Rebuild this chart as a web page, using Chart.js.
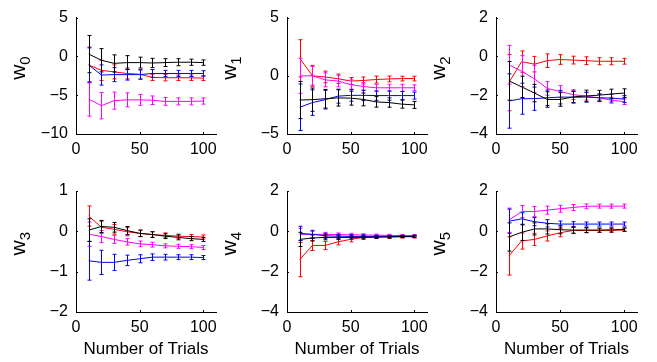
<!DOCTYPE html>
<html>
<head>
<meta charset="utf-8">
<script src="https://cdn.jsdelivr.net/npm/chart.js@4.4.0/dist/chart.umd.min.js"></script>
<style>
  body { margin: 0; background: #fff; }
  #wrap { position: relative; width: 657px; height: 362px; overflow: hidden; }
  #wrap canvas { position: absolute; }
</style>
</head>
<body>
<div id="wrap"></div>
<script>
//-----------------------------------
// Data
//-----------------------------------
var trials = [10, 20, 30, 40, 50, 60, 70, 80, 90, 100];
var xTicks = [0, 50, 100];

// rows in every panel: red, magenta, blue, black
var seriesColors = ['#ff0000', '#ff00ff', '#0000ff', '#000000'];

var w0Mean = [
  [-1.1, -1.8, -2.0, -2.2, -2.3, -2.7, -2.75, -2.75, -2.75, -2.8],
  [-5.5, -6.35, -5.7, -5.6, -5.6, -5.65, -5.8, -5.8, -5.8, -5.75],
  [-1.1, -2.4, -2.35, -2.35, -2.35, -2.2, -2.2, -2.2, -2.2, -2.2],
  [0.3, -0.5, -0.9, -0.8, -0.8, -0.85, -0.8, -0.75, -0.75, -0.8]
];
var w0Err = [
  [2.3, 1.3, 0.9, 0.7, 0.6, 0.4, 0.4, 0.35, 0.35, 0.3],
  [2.2, 1.7, 1.1, 0.9, 0.7, 0.55, 0.5, 0.45, 0.45, 0.4],
  [2.2, 1.3, 0.9, 0.7, 0.6, 0.5, 0.4, 0.4, 0.4, 0.35],
  [2.4, 1.5, 1.1, 0.9, 0.7, 0.6, 0.5, 0.45, 0.4, 0.35]
];

var w1Mean = [
  [1.5, 0.0, -0.1, -0.25, -0.45, -0.4, -0.32, -0.27, -0.24, -0.24],
  [0.0, 0.0, -0.35, -0.45, -0.75, -0.92, -1.03, -1.03, -1.03, -1.03],
  [-2.7, -2.3, -2.05, -1.75, -1.68, -1.68, -1.7, -1.7, -1.7, -1.7],
  [-2.08, -2.05, -1.97, -1.9, -1.92, -2.03, -2.24, -2.3, -2.43, -2.5]
];
var w1Err = [
  [1.6, 0.9, 0.5, 0.4, 0.3, 0.3, 0.3, 0.25, 0.2, 0.2],
  [1.5, 0.8, 0.6, 0.5, 0.4, 0.35, 0.3, 0.3, 0.3, 0.25],
  [2.0, 1.1, 0.8, 0.6, 0.5, 0.45, 0.4, 0.4, 0.35, 0.3],
  [1.6, 1.0, 0.8, 0.7, 0.6, 0.55, 0.45, 0.4, 0.35, 0.3]
];

var w2Mean = [
  [-1.35, -0.27, -0.4, -0.22, -0.16, -0.19, -0.22, -0.25, -0.25, -0.25],
  [-0.43, -0.76, -1.16, -1.65, -1.81, -1.97, -2.05, -2.13, -2.26, -2.33],
  [-2.3, -2.18, -2.18, -2.13, -2.1, -2.1, -2.1, -2.13, -2.15, -2.2],
  [-1.26, -1.57, -1.89, -2.22, -2.22, -2.09, -2.04, -2.0, -1.94, -1.89]
];
var w2Err = [
  [1.45, 0.55, 0.4, 0.35, 0.25, 0.2, 0.2, 0.18, 0.18, 0.15],
  [1.0, 0.8, 0.7, 0.35, 0.3, 0.25, 0.2, 0.18, 0.15, 0.15],
  [1.4, 0.8, 0.6, 0.4, 0.35, 0.3, 0.25, 0.2, 0.2, 0.18],
  [1.0, 0.55, 0.45, 0.4, 0.35, 0.3, 0.3, 0.25, 0.25, 0.22]
];

var w3Mean = [
  [0.38, 0.1, 0.05, -0.01, -0.05, -0.08, -0.1, -0.12, -0.13, -0.14],
  [-0.07, -0.13, -0.2, -0.26, -0.31, -0.33, -0.36, -0.37, -0.38, -0.4],
  [-0.73, -0.77, -0.77, -0.72, -0.68, -0.64, -0.64, -0.64, -0.64, -0.65],
  [0.03, 0.12, 0.1, 0.02, -0.05, -0.08, -0.12, -0.15, -0.18, -0.2]
];
var w3Err = [
  [0.25, 0.15, 0.12, 0.1, 0.08, 0.07, 0.06, 0.05, 0.05, 0.05],
  [0.3, 0.15, 0.1, 0.08, 0.07, 0.06, 0.05, 0.05, 0.05, 0.05],
  [0.48, 0.3, 0.2, 0.13, 0.1, 0.08, 0.07, 0.06, 0.06, 0.05],
  [0.28, 0.15, 0.12, 0.1, 0.08, 0.07, 0.06, 0.06, 0.05, 0.05]
];

var w4Mean = [
  [-1.4, -0.7, -0.7, -0.52, -0.4, -0.3, -0.27, -0.27, -0.27, -0.27],
  [-0.15, -0.15, -0.15, -0.16, -0.17, -0.18, -0.19, -0.2, -0.21, -0.22],
  [-0.1, -0.15, -0.22, -0.24, -0.25, -0.25, -0.25, -0.25, -0.25, -0.25],
  [-0.4, -0.33, -0.3, -0.3, -0.3, -0.3, -0.29, -0.28, -0.26, -0.24]
];
var w4Err = [
  [0.85, 0.25, 0.2, 0.15, 0.12, 0.1, 0.08, 0.07, 0.06, 0.06],
  [0.3, 0.15, 0.1, 0.08, 0.07, 0.06, 0.05, 0.05, 0.05, 0.05],
  [0.35, 0.2, 0.12, 0.1, 0.08, 0.07, 0.06, 0.05, 0.05, 0.05],
  [0.35, 0.15, 0.12, 0.1, 0.08, 0.07, 0.06, 0.06, 0.05, 0.05]
];

var w5Mean = [
  [-1.22, -0.48, -0.4, -0.23, -0.07, 0.04, 0.05, 0.05, 0.05, 0.07],
  [0.55, 0.98, 0.98, 1.05, 1.12, 1.18, 1.24, 1.25, 1.25, 1.25],
  [0.5, 0.62, 0.48, 0.4, 0.36, 0.36, 0.36, 0.36, 0.36, 0.36],
  [-0.28, -0.05, 0.12, 0.12, 0.08, 0.06, 0.06, 0.06, 0.07, 0.09]
];
var w5Err = [
  [0.95, 0.4, 0.3, 0.25, 0.2, 0.15, 0.12, 0.1, 0.1, 0.08],
  [0.6, 0.3, 0.25, 0.2, 0.17, 0.15, 0.12, 0.1, 0.1, 0.1],
  [0.6, 0.3, 0.2, 0.18, 0.15, 0.12, 0.1, 0.1, 0.1, 0.1],
  [0.7, 0.4, 0.3, 0.25, 0.2, 0.15, 0.12, 0.1, 0.1, 0.08]
];

var panelSubs = ['0', '1', '2', '3', '4', '5'];
var yTicks = [[-10, -5, 0, 5], [-5, 0, 5], [-4, -2, 0, 2], [-2, -1, 0, 1], [-4, -2, 0, 2], [-4, -2, 0, 2]];
var xTitle = 'Number of Trials';

var panelMeans = [w0Mean, w1Mean, w2Mean, w3Mean, w4Mean, w5Mean];
var panelErrs = [w0Err, w1Err, w2Err, w3Err, w4Err, w5Err];

//-----------------------------------
// Layout (page pixels of each plot box)
//-----------------------------------
var FONT = '"Liberation Sans", Arial, Helvetica, sans-serif';
var plotLeft = [76, 287, 496];
var plotRight = [216, 427, 637];
var plotTop = [12, 191];
var plotBottom = [134, 312];
var rowY0 = [0, 172];
var rowH = [172, 190];

//-----------------------------------
// error bars, drawn right after each line
//-----------------------------------
var errorBarPlugin = {
  id: 'errorBars',
  afterDatasetDraw: function (chart, args) {
    var ds = chart.data.datasets[args.index];
    var yScale = chart.scales.y;
    var ctx = chart.ctx;
    ctx.save();
    ctx.strokeStyle = ds.borderColor;
    ctx.lineWidth = 1;
    args.meta.data.forEach(function (pt, i) {
      var m = ds.data[i].y;
      var e = ds.err[i];
      var top = yScale.getPixelForValue(m + e);
      var bot = yScale.getPixelForValue(m - e);
      var x = Math.round(pt.x) + 0.5;
      ctx.beginPath();
      ctx.moveTo(x, top); ctx.lineTo(x, bot);
      ctx.moveTo(x - 2, top); ctx.lineTo(x + 2, top);
      ctx.moveTo(x - 2, bot); ctx.lineTo(x + 2, bot);
      ctx.stroke();
    });
    ctx.restore();
  }
};

// y label w with subscript, and small inward ticks
var axisExtrasPlugin = {
  id: 'axisExtras',
  afterDraw: function (chart) {
    var ctx = chart.ctx;
    var a = chart.chartArea;
    var sub = chart.options.plugins.axisExtras.sub;
    ctx.save();
    ctx.strokeStyle = '#000';
    ctx.lineWidth = 1;
    ctx.beginPath();
    chart.scales.x.ticks.forEach(function (t) {
      var x = Math.round(chart.scales.x.getPixelForValue(t.value)) + 0.5;
      ctx.moveTo(x, a.bottom); ctx.lineTo(x, a.bottom - 2);
    });
    chart.scales.y.ticks.forEach(function (t) {
      var y = Math.round(chart.scales.y.getPixelForValue(t.value)) + 0.5;
      ctx.moveTo(a.left, y); ctx.lineTo(a.left + 2, y);
    });
    ctx.stroke();

    ctx.fillStyle = '#000';
    ctx.translate(a.left - 51, (a.top + a.bottom) / 2 + 4);
    ctx.rotate(-Math.PI / 2);
    ctx.textAlign = 'left';
    ctx.textBaseline = 'alphabetic';
    ctx.font = '21px ' + FONT;
    ctx.fillText('w', 0, 0);
    var ww = ctx.measureText('w').width;
    ctx.font = '15px ' + FONT;
    ctx.fillText(sub, ww, 5);
    ctx.restore();
  }
};

function minusLabel(v) {
  return v < 0 ? '\u2212' + Math.abs(v) : '' + v;
}

//-----------------------------------
// build the six panels
//-----------------------------------
function drawPanel(p) {
  var col = p % 3;
  var row = Math.floor(p / 3);
  var x0 = plotLeft[col] - 76;
  var w = plotRight[col] - x0 + 22;
  var y0 = rowY0[row];
  var h = rowH[row];

  var canvas = document.createElement('canvas');
  canvas.width = w;
  canvas.height = h;
  canvas.style.left = x0 + 'px';
  canvas.style.top = y0 + 'px';
  canvas.style.width = w + 'px';
  canvas.style.height = h + 'px';
  document.getElementById('wrap').appendChild(canvas);

  var datasets = [];
  for (var s = 0; s < seriesColors.length; s++) {
    datasets.push({
      data: trials.map(function (t, i) { return { x: t, y: panelMeans[p][s][i] }; }),
      err: panelErrs[p][s],
      borderColor: seriesColors[s],
      borderWidth: 1,
      pointRadius: 0,
      tension: 0,
      fill: false
    });
  }
  datasets.reverse(); // black drawn last, on top

  var ticksY = yTicks[p];
  var axisH = h - (plotBottom[row] - y0);

  new Chart(canvas, {
    type: 'line',
    data: { datasets: datasets },
    plugins: [errorBarPlugin, axisExtrasPlugin],
    options: {
      responsive: false,
      animation: false,
      devicePixelRatio: 1,
      layout: {
        padding: { left: 0, top: plotTop[row] - y0, right: w - (plotRight[col] - x0), bottom: 0 }
      },
      plugins: {
        legend: { display: false },
        tooltip: { enabled: false },
        axisExtras: { sub: panelSubs[p] }
      },
      scales: {
        x: {
          type: 'linear',
          min: 0,
          max: 110,
          afterBuildTicks: function (sc) { sc.ticks = xTicks.map(function (v) { return { value: v }; }); },
          afterFit: function (sc) { sc.height = axisH; },
          grid: { display: false, drawTicks: false },
          border: { display: true, color: '#000', width: 1 },
          ticks: { color: '#000', font: { family: FONT, size: 16 }, padding: 6, maxRotation: 0, autoSkip: false },
          title: {
            display: row === 1,
            text: xTitle,
            color: '#000',
            font: { family: FONT, size: 17 },
            padding: { top: 0, bottom: 2 }
          }
        },
        y: {
          min: ticksY[0],
          max: ticksY[ticksY.length - 1],
          afterBuildTicks: function (sc) { sc.ticks = ticksY.map(function (v) { return { value: v }; }); },
          afterFit: function (sc) { sc.width = 76; },
          grid: { display: false, drawTicks: false },
          border: { display: true, color: '#000', width: 1 },
          ticks: { color: '#000', font: { family: FONT, size: 16 }, padding: 8, callback: minusLabel }
        }
      }
    }
  });
}

for (var p = 0; p < 6; p++) {
  drawPanel(p);
}
</script>
</body>
</html>
